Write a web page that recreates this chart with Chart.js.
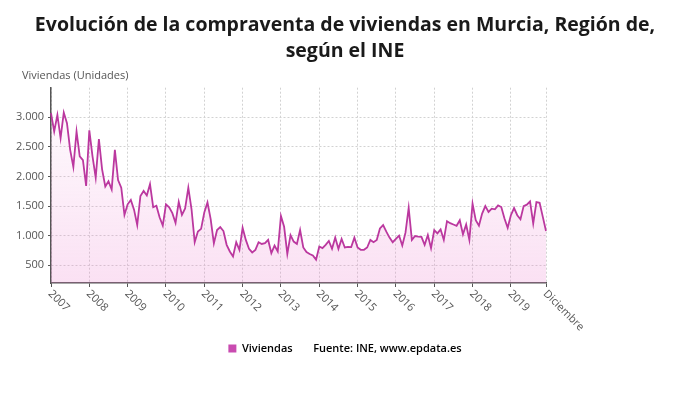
<!DOCTYPE html>
<html>
<head>
<meta charset="utf-8">
<script src="https://cdn.jsdelivr.net/npm/chart.js@4.4.0/dist/chart.umd.min.js"></script>
<style>
    html, body { margin: 0; padding: 0; background: #fff; }
    #wrap { width: 690px; height: 406px; position: relative; }
</style>
</head>
<body>
<div id="wrap"><canvas id="chart"></canvas></div>
<script>
const years = ['2007', '2008', '2009', '2010', '2011', '2012', '2013', '2014', '2015', '2016', '2017', '2018', '2019'];
const meses = ['Enero', 'Febrero', 'Marzo', 'Abril', 'Mayo', 'Junio', 'Julio', 'Agosto', 'Septiembre', 'Octubre', 'Noviembre', 'Diciembre'];

// compraventa mensual de viviendas (unidades), un array por año
const v2007 = [3070, 2760, 3040, 2650, 3080, 2900, 2450, 2160, 2760, 2340, 2275, 1840];
const v2008 = [2780, 2340, 1980, 2630, 2120, 1830, 1920, 1780, 2450, 1940, 1810, 1350];
const v2009 = [1530, 1605, 1440, 1180, 1670, 1755, 1680, 1870, 1480, 1505, 1310, 1170];
const v2010 = [1530, 1480, 1380, 1215, 1570, 1350, 1460, 1810, 1450, 890, 1070, 1115];
const v2011 = [1390, 1560, 1280, 870, 1095, 1145, 1078, 845, 733, 650, 890, 760];
const v2012 = [1133, 928, 778, 717, 760, 890, 860, 872, 928, 705, 833, 733];
const v2013 = [1333, 1150, 690, 1010, 900, 860, 1095, 800, 722, 690, 667, 595];
const v2014 = [817, 789, 845, 911, 778, 967, 778, 945, 800, 811, 806, 967];
const v2015 = [800, 761, 761, 800, 928, 889, 928, 1122, 1178, 1067, 967, 889];
const v2016 = [945, 1000, 833, 1050, 1470, 928, 994, 983, 978, 844, 1011, 789];
const v2017 = [1095, 1039, 1106, 928, 1245, 1211, 1189, 1167, 1261, 1022, 1189, 928];
const v2018 = [1540, 1261, 1167, 1372, 1500, 1400, 1456, 1445, 1511, 1484, 1289, 1133];
const v2019 = [1345, 1467, 1345, 1278, 1500, 1523, 1578, 1206, 1567, 1556, 1317, 1078];

const yTicks = [500, 1000, 1500, 2000, 2500, 3000];
const lastLabel = 'Diciembre';

const viviendas = [].concat(v2007, v2008, v2009, v2010, v2011, v2012, v2013, v2014, v2015, v2016, v2017, v2018, v2019);
const labels = [];
years.forEach(y => meses.forEach(m => labels.push(m + ' ' + y)));

const FONT = '"Open Sans", "Noto Sans", sans-serif';

function fmt(v) {
    return String(v).replace(/\B(?=(\d{3})+(?!\d))/g, '.');
}

function tickText(i) {
    if (i === labels.length - 1) return lastLabel;
    if (i % 12 === 0) return years[i / 12];
    return '';
}

// etiquetas del eje x giradas hacia abajo a la derecha
const xLabelsPlugin = {
    id: 'xLabels',
    afterDraw(chart) {
        const { ctx, chartArea, scales } = chart;
        ctx.save();
        ctx.font = '11px ' + FONT;
        ctx.fillStyle = '#555';
        ctx.textAlign = 'left';
        ctx.textBaseline = 'middle';
        labels.forEach((lab, i) => {
            const txt = tickText(i);
            if (!txt) return;
            const px = scales.x.getPixelForValue(i);
            ctx.save();
            ctx.translate(px - 1, chartArea.bottom + 9);
            ctx.rotate(Math.PI / 4);
            ctx.fillText(txt, 0, 0);
            ctx.restore();
        });
        // titulo del eje y
        ctx.font = '11px ' + FONT;
        ctx.fillText('Viviendas (Unidades)', chartArea.left - 29, chartArea.top - 12);
        ctx.restore();
    }
};

const ctx = document.getElementById('chart').getContext('2d');

new Chart(ctx, {
    type: 'line',
    data: {
        labels: labels,
        datasets: [{
            label: 'Viviendas',
            data: viviendas,
            borderColor: '#bb389f',
            borderWidth: 1.8,
            pointRadius: 0,
            tension: 0,
            fill: 'start',
            backgroundColor: c => {
                const a = c.chart.chartArea;
                if (!a) return 'rgba(236,128,206,0.1)';
                const g = c.chart.ctx.createLinearGradient(0, a.bottom, 0, a.top);
                g.addColorStop(0, 'rgba(236,128,206,0.24)');
                g.addColorStop(1, 'rgba(236,128,206,0.02)');
                return g;
            }
        }]
    },
    options: {
        responsive: true,
        maintainAspectRatio: false,
        animation: false,
        layout: { padding: { left: 0, right: 0, top: 0, bottom: 42 } },
        plugins: {
            title: {
                display: true,
                text: ['Evolución de la compraventa de viviendas en Murcia, Región de,', 'según el INE'],
                font: { family: FONT, size: 19.5, weight: 'bold', lineHeight: 1.3 },
                color: '#1a1a1a',
                padding: { top: 13, bottom: 24 }
            },
            legend: {
                position: 'bottom',
                labels: {
                    boxWidth: 8,
                    boxHeight: 8,
                    padding: 7,
                    color: '#333',
                    font: { family: FONT, size: 11, weight: '600' },
                    generateLabels: () => [
                        { text: 'Viviendas', fillStyle: '#c94bb0', strokeStyle: '#c94bb0', lineWidth: 0, hidden: false, datasetIndex: 0 },
                        { text: 'Fuente: INE, www.epdata.es', fillStyle: 'rgba(0,0,0,0)', strokeStyle: 'rgba(0,0,0,0)', lineWidth: 0, hidden: false }
                    ]
                }
            },
            tooltip: { enabled: false }
        },
        scales: {
            x: {
                ticks: { display: false, autoSkip: false },
                grid: {
                    color: c => tickText(c.index) ? '#d2d2d2' : 'rgba(0,0,0,0)',
                    tickColor: c => tickText(c.index) ? '#555' : 'rgba(0,0,0,0)',
                    tickLength: 4
                },
                border: { color: '#555', width: 1.5, dash: [2, 2] },
                afterFit(s) { s.height = 53; }
            },
            y: {
                min: 200,
                max: 3500,
                afterBuildTicks(s) { s.ticks = yTicks.map(v => ({ value: v })); },
                ticks: {
                    font: { family: FONT, size: 11 },
                    color: '#555',
                    padding: 4,
                    callback: v => fmt(v)
                },
                grid: { color: '#d2d2d2', tickColor: '#555', tickLength: 3 },
                border: { color: '#555', width: 1.5, dash: [2, 2] },
                afterFit(s) { s.width = 51; }
            },
            y2: {
                position: 'right',
                display: true,
                ticks: { display: false },
                grid: { display: false },
                border: { display: false },
                afterFit(s) { s.width = 144; }
            }
        }
    },
    plugins: [xLabelsPlugin]
});
</script>
</body>
</html>
